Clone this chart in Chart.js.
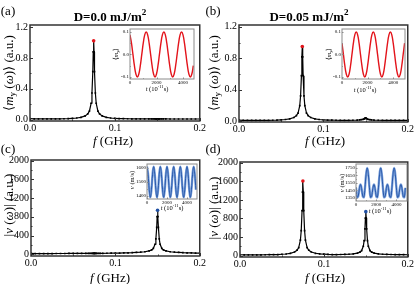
<!DOCTYPE html>
<html>
<head>
<meta charset="utf-8">
<script src="https://cdn.jsdelivr.net/npm/chart.js@4.4.1/dist/chart.umd.min.js"></script>
<style>
  body { margin: 0; background: #fff; }
  #wrap { position: relative; width: 415px; height: 284px; overflow: hidden;
          font-family: "Liberation Serif", "Times New Roman", serif; color: #000; }
  canvas { position: absolute; }
  .t { position: absolute; white-space: nowrap; line-height: 1; transform: translate(-50%, -50%); }
  .rot { transform: translate(-50%, -50%) rotate(-90deg); }
  .big { font-size: 13px; }
  .head { font-size: 13px; font-weight: bold; }
  .small { font-size: 6.5px; }
  sub, sup { font-size: 70%; line-height: 0; }
  sub { vertical-align: -0.3em; }
  sup { vertical-align: 0.6em; }
</style>
</head>
<body>
<div id="wrap">
  <canvas id="mainA" width="207" height="142" style="left:0;top:0"></canvas>
  <canvas id="mainB" width="208" height="142" style="left:207px;top:0"></canvas>
  <canvas id="mainC" width="207" height="142" style="left:0;top:142px"></canvas>
  <canvas id="mainD" width="208" height="142" style="left:207px;top:142px"></canvas>
  <canvas id="insetA" width="84" height="64" style="left:112px;top:25px"></canvas>
  <canvas id="insetB" width="84" height="64" style="left:324px;top:25px"></canvas>
  <canvas id="insetC" width="72" height="49" style="left:127px;top:160px"></canvas>
  <canvas id="insetD" width="73" height="51" style="left:336px;top:160px"></canvas>

  <div class="t big" style="left:8px;top:10px">(a)</div>
  <div class="t big" style="left:213px;top:10px">(b)</div>
  <div class="t big" style="left:8px;top:148px">(c)</div>
  <div class="t big" style="left:213px;top:148px">(d)</div>
  <div class="t head" style="left:110px;top:16px">D=0.0 mJ/m<sup>2</sup></div>
  <div class="t head" style="left:309px;top:16px">D=0.05 mJ/m<sup>2</sup></div>

  <div class="t big rot" style="left:8px;top:73px">&#10216;<i>m</i><sub>y</sub> (<i>&omega;</i>)&#10217; (a.u.)</div>
  <div class="t big rot" style="left:213px;top:73px">&#10216;<i>m</i><sub>y</sub> (<i>&omega;</i>)&#10217; (a.u.)</div>
  <div class="t big rot" style="left:8px;top:205px">|<i>v</i> (<i>&omega;</i>)| (a.u.)</div>
  <div class="t big rot" style="left:213px;top:208px">|<i>v</i> (<i>&omega;</i>)| (a.u.)</div>
  <div class="t big" style="left:113px;top:140px"><i>f</i> (GHz)</div>
  <div class="t big" style="left:325px;top:140px"><i>f</i> (GHz)</div>
  <div class="t big" style="left:110px;top:277px"><i>f</i> (GHz)</div>
  <div class="t big" style="left:325px;top:277px"><i>f</i> (GHz)</div>

  <div class="t small rot" style="left:116px;top:54px">&#10216;<i>m</i><sub>y</sub>&#10217;</div>
  <div class="t small rot" style="left:329px;top:54px">&#10216;<i>m</i><sub>y</sub>&#10217;</div>
  <div class="t small rot" style="left:132px;top:180px"><i>v</i> (m/s)</div>
  <div class="t small rot" style="left:342px;top:183px"><i>v</i> (m/s)</div>
  <div class="t small" style="left:157px;top:89px"><i>t</i> (10<sup>-11</sup>s)</div>
  <div class="t small" style="left:365px;top:90px"><i>t</i> (10<sup>-11</sup>s)</div>
  <div class="t small" style="left:172px;top:208px"><i>t</i> (10<sup>-11</sup>s)</div>
  <div class="t small" style="left:380px;top:211px"><i>t</i> (10<sup>-11</sup>s)</div>
</div>

<script>
// Spectra, all sampled on one frequency grid (GHz)
const freqGrid = [0, 0.005, 0.01, 0.015, 0.02, 0.025, 0.03, 0.035, 0.04, 0.045,
  0.05, 0.055, 0.06, 0.065, 0.068, 0.07, 0.072, 0.073, 0.074, 0.0745,
  0.075, 0.0755, 0.076, 0.077, 0.078, 0.08, 0.082, 0.085, 0.09, 0.095,
  0.1, 0.105, 0.11, 0.115, 0.12, 0.125, 0.13, 0.135, 0.14, 0.143,
  0.145, 0.147, 0.148, 0.149, 0.1495, 0.15, 0.1505, 0.151, 0.152, 0.153,
  0.155, 0.157, 0.16, 0.165, 0.17, 0.175, 0.18, 0.185, 0.19, 0.195, 0.2];

// (a) <m_y(w)>, D = 0.0
const spectrumA = [0.015, 0.012, 0.012, 0.012, 0.012, 0.012, 0.013, 0.013, 0.014, 0.016,
  0.020, 0.024, 0.032, 0.051, 0.076, 0.112, 0.214, 0.347, 0.622, 0.877,
  1.02, 0.877, 0.622, 0.347, 0.214, 0.112, 0.076, 0.051, 0.032, 0.024,
  0.020, 0.016, 0.015, 0.014, 0.013, 0.013, 0.013, 0.012, 0.012, 0.012,
  0.012, 0.012, 0.012, 0.012, 0.012, 0.012, 0.012, 0.012, 0.012, 0.012,
  0.012, 0.012, 0.012, 0.011, 0.011, 0.011, 0.011, 0.011, 0.011, 0.011, 0.011];

// (b) <m_y(w)>, D = 0.05
const spectrumB = [0.015, 0.012, 0.012, 0.012, 0.012, 0.012, 0.013, 0.013, 0.014, 0.016,
  0.020, 0.024, 0.031, 0.049, 0.072, 0.105, 0.200, 0.324, 0.580, 0.818,
  0.950, 0.818, 0.580, 0.324, 0.200, 0.105, 0.072, 0.049, 0.031, 0.024,
  0.020, 0.016, 0.015, 0.014, 0.013, 0.013, 0.013, 0.014, 0.016, 0.018,
  0.021, 0.026, 0.030, 0.036, 0.042, 0.046, 0.042, 0.036, 0.030, 0.026,
  0.021, 0.018, 0.016, 0.014, 0.013, 0.012, 0.012, 0.012, 0.012, 0.012, 0.012];

// (c) |v(w)|, D = 0.0
const spectrumC = [20, 16, 16, 16, 16, 16, 17, 17, 17, 18,
  18, 18, 19, 19, 19, 20, 20, 20, 20, 20,
  20, 20, 20, 21, 21, 21, 22, 22, 23, 24,
  25, 27, 29, 32, 35, 40, 46, 55, 72, 95,
  128, 215, 330, 575, 805, 940, 805, 575, 330, 215,
  128, 95, 72, 55, 46, 40, 35, 32, 29, 27, 25];

// (d) |v(w)|, D = 0.05
const spectrumD = [20, 17, 17, 17, 18, 19, 20, 21, 22, 25,
  31, 37, 50, 79, 118, 174, 333, 540, 969, 1367,
  1605, 1367, 969, 540, 333, 174, 118, 80, 52, 39,
  33, 28, 25, 25, 26, 28, 31, 38, 55, 77,
  110, 203, 324, 575, 807, 947, 807, 575, 324, 203,
  110, 77, 55, 38, 31, 28, 26, 24, 22, 21, 20];

// Inset time traces (t in 10^-11 s)
const timeGrid = [0, 111, 222, 333, 444, 556, 667, 778, 889, 1000,
  1111, 1222, 1333, 1444, 1556, 1667, 1778, 1889, 2000, 2111,
  2222, 2333, 2444, 2556, 2667, 2778, 2889, 3000, 3111, 3222,
  3333, 3444, 3556, 3667, 3778, 3889, 4000, 4111, 4222, 4333,
  4444, 4556, 4667, 4778, 4889];

const myTraceA = [0.087, 0.05, 0, -0.05, -0.087, -0.1, -0.087, -0.05, 0, 0.05, 0.087, 0.1,
  0.087, 0.05, 0, -0.05, -0.087, -0.1, -0.087, -0.05, 0, 0.05, 0.087, 0.1,
  0.087, 0.05, 0, -0.05, -0.087, -0.1, -0.087, -0.05, 0, 0.05, 0.087, 0.1,
  0.087, 0.05, 0, -0.05, -0.087, -0.1, -0.087, -0.05];

const myTraceB = [0.05, 0, -0.05, -0.087, -0.1, -0.087, -0.05, 0, 0.05, 0.087, 0.1, 0.087,
  0.05, 0, -0.05, -0.087, -0.1, -0.087, -0.05, 0, 0.05, 0.087, 0.1, 0.087,
  0.05, 0, -0.05, -0.087, -0.1, -0.087, -0.05, 0, 0.05, 0.087, 0.1, 0.087,
  0.05, 0, -0.05, -0.087, -0.1, -0.087, -0.05, 0, 0.05];

const vTraceC = [1610, 1555, 1445, 1390, 1445, 1555, 1610, 1555, 1445, 1390, 1445, 1555,
  1610, 1555, 1445, 1390, 1445, 1555, 1610, 1555, 1445, 1390, 1445, 1555,
  1610, 1555, 1445, 1390, 1445, 1555, 1610, 1555, 1445, 1390, 1445, 1555,
  1610, 1555, 1445, 1390, 1445, 1555, 1610, 1555, 1445];

const vTraceD = [1485, 1360, 1375, 1475, 1530, 1475, 1375, 1360, 1485, 1665, 1750, 1665,
  1485, 1360, 1375, 1475, 1530, 1475, 1375, 1360, 1485, 1665, 1750, 1665,
  1485, 1360, 1375, 1475, 1530, 1475, 1375, 1360, 1485, 1665, 1750, 1665,
  1485, 1360, 1375, 1475, 1530, 1475, 1375, 1360, 1485];

// Tick labels
const freqTicks = [0, 0.1, 0.2];
const myTicks = [0, 0.4, 0.8, 1.2];
const vTicks = [0, 400, 800, 1200, 1600, 2000];
const timeTicks = [0, 2000, 4000];
const myInsetTicks = [-0.1, 0, 0.1];
const vInsetTicksC = [1400, 1500, 1600];
const vInsetTicksD = [1350, 1450, 1550, 1650, 1750];

const SERIF = "'Liberation Serif', 'Times New Roman', serif";

// Box around the plot area with small inward ticks (major + midpoints)
const boxTicks = {
    id: 'boxTicks',
    afterDatasetsDraw(chart, args, opts) {
        const { ctx, chartArea: a, scales } = chart;
        ctx.save();
        const mids = arr => arr.slice(1).map((v, i) => (v + arr[i]) / 2);
        const xt = scales.x.ticks.map(t => t.value);
        const yt = scales.y.ticks.map(t => t.value);
        ctx.strokeStyle = opts.color;
        ctx.lineWidth = 1;
        const markX = (vals, len) => vals.forEach(v => {
            const px = Math.round(scales.x.getPixelForValue(v)) + 0.5;
            ctx.beginPath(); ctx.moveTo(px, a.bottom); ctx.lineTo(px, a.bottom - len); ctx.stroke();
        });
        const markY = (vals, len) => vals.forEach(v => {
            const py = Math.round(scales.y.getPixelForValue(v)) + 0.5;
            ctx.beginPath(); ctx.moveTo(a.left, py); ctx.lineTo(a.left + len, py); ctx.stroke();
        });
        markX(xt, opts.len); markX(mids(xt), opts.len / 2);
        markY(yt, opts.len); markY(mids(yt), opts.len / 2);
        ctx.lineWidth = opts.width;
        ctx.strokeRect(a.left, a.top, a.right - a.left, a.bottom - a.top);
        ctx.restore();
    }
};

const fixedTicks = list => scale => { scale.ticks = list.map(v => ({ value: v })); };

function spectrumChart(id, series, yMin, yMax, yTicks, yFmt, box) {
    const canvas = document.getElementById(id);
    const points = freqGrid.map((f, i) => ({ x: f, y: series[i] }));
    const top = Math.max(...series);
    // tall local maxima get a coloured dot on top
    const peaks = points.filter((p, i) => i > 0 && i < series.length - 1 &&
        series[i] > series[i - 1] && series[i] >= series[i + 1] && series[i] > 0.3 * top);

    return new Chart(canvas, {
        type: 'line',
        data: {
            datasets: [{
                data: peaks,
                showLine: false,
                pointRadius: 1.8,
                pointBorderWidth: 0,
                pointBackgroundColor: peaks.map(p => p.x < 0.1 ? '#e3141b' : '#1f4fa3')
            }, {
                data: points,
                borderColor: '#000',
                borderWidth: 1.2,
                tension: 0,
                pointStyle: 'rect',
                pointRadius: 1.2,
                pointBorderWidth: 0,
                pointBackgroundColor: '#000'
            }]
        },
        options: {
            responsive: false,
            animation: false,
            events: [],
            layout: { padding: { top: box.top, right: canvas.width - box.right, left: 0, bottom: 0 } },
            plugins: {
                legend: { display: false },
                tooltip: { enabled: false },
                boxTicks: { color: '#333', width: 1.5, len: 3 }
            },
            scales: {
                x: {
                    type: 'linear', min: 0, max: 0.2,
                    grid: { display: false, drawTicks: false },
                    border: { display: false },
                    afterBuildTicks: fixedTicks(freqTicks),
                    afterFit: s => { s.height = canvas.height - box.bottom; },
                    ticks: { padding: 1, color: '#000', maxRotation: 0,
                             font: { family: SERIF, size: 10 }, callback: v => v.toFixed(1) }
                },
                y: {
                    type: 'linear', min: yMin, max: yMax,
                    grid: { display: false, drawTicks: false },
                    border: { display: false },
                    afterBuildTicks: fixedTicks(yTicks),
                    afterFit: s => { s.width = box.left; },
                    ticks: { padding: 2, color: '#000',
                             font: { family: SERIF, size: 10 }, callback: yFmt }
                }
            }
        },
        plugins: [boxTicks]
    });
}

function insetChart(id, trace, layers, xMax, yMin, yMax, yTicks, yFmt, box) {
    const canvas = document.getElementById(id);
    const points = trace.map((v, i) => ({ x: timeGrid[i], y: v }));
    return new Chart(canvas, {
        type: 'line',
        data: {
            datasets: layers.map(l => ({
                data: points,
                borderColor: l.color,
                borderWidth: l.width,
                tension: 0.4,
                pointRadius: 0
            }))
        },
        options: {
            responsive: false,
            animation: false,
            events: [],
            layout: { padding: { top: box.top, right: canvas.width - box.right, left: 0, bottom: 0 } },
            plugins: {
                legend: { display: false },
                tooltip: { enabled: false },
                boxTicks: { color: '#8a8a8a', width: 1, len: 1.5 }
            },
            scales: {
                x: {
                    type: 'linear', min: 0, max: xMax,
                    grid: { display: false, drawTicks: false },
                    border: { display: false },
                    afterBuildTicks: fixedTicks(timeTicks),
                    afterFit: s => { s.height = canvas.height - box.bottom; },
                    ticks: { padding: 1, color: '#000', maxRotation: 0,
                             font: { family: SERIF, size: 5 }, callback: v => String(v) }
                },
                y: {
                    type: 'linear', min: yMin, max: yMax,
                    grid: { display: false, drawTicks: false },
                    border: { display: false },
                    afterBuildTicks: fixedTicks(yTicks),
                    afterFit: s => { s.width = box.left; },
                    ticks: { padding: 1, color: '#000',
                             font: { family: SERIF, size: 5 }, callback: yFmt }
                }
            }
        },
        plugins: [boxTicks]
    });
}

const oneDecimal = v => v.toFixed(1);
const whole = v => String(v);

spectrumChart('mainA', spectrumA, -0.015, 1.225, myTicks, oneDecimal, { left: 30, top: 25, right: 200, bottom: 121 });
spectrumChart('mainB', spectrumB, -0.008, 1.222, myTicks, oneDecimal, { left: 32, top: 25, right: 202, bottom: 122 });
spectrumChart('mainC', spectrumC, -36, 2015, vTicks, whole, { left: 31, top: 18, right: 200, bottom: 114 });
spectrumChart('mainD', spectrumD, -28, 2015, vTicks, whole, { left: 33, top: 20, right: 201, bottom: 115 });

const redTrace = [{ color: '#e3141b', width: 1.4 }];
const blueTrace = [{ color: '#1f4fa3', width: 0.9 }, { color: '#7fa5de', width: 2.4 }];

insetChart('insetA', myTraceA, redTrace, 4830, -0.109, 0.113, myInsetTicks, oneDecimal, { left: 18, top: 4, right: 82, bottom: 54 });
insetChart('insetB', myTraceB, redTrace, 4920, -0.109, 0.113, myInsetTicks, oneDecimal, { left: 18, top: 4, right: 81, bottom: 54 });
insetChart('insetC', vTraceC, blueTrace, 5000, 1378.6, 1628.6, vInsetTicksC, whole, { left: 20, top: 4, right: 70, bottom: 39 });
insetChart('insetD', vTraceD, blueTrace, 5050, 1310, 1803, vInsetTicksD, whole, { left: 20, top: 4, right: 71, bottom: 41 });
</script>
</body>
</html>
